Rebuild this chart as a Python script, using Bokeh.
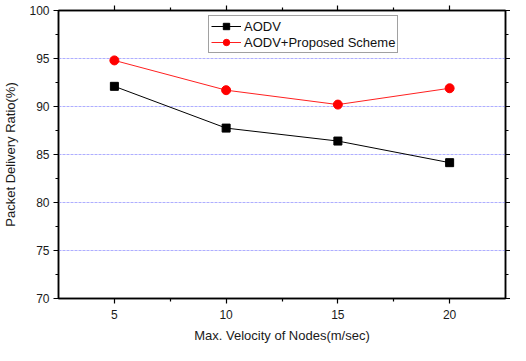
from bokeh.plotting import figure
from bokeh.models import LinearAxis, Legend, LegendItem, FixedTicker, Range1d, CustomJSTickFormatter
from bokeh.embed import file_html
from bokeh.resources import INLINE

velocity = [5, 10, 15, 20]
aodv = [92.1, 87.75, 86.4, 84.15]
proposed = [94.8, 91.7, 90.2, 91.9]
x_ticks = [5, 10, 15, 20]
x_minor = [7.5, 12.5, 17.5]
y_ticks = [70, 75, 80, 85, 90, 95, 100]
y_minor = [72.5, 77.5, 82.5, 87.5, 92.5, 97.5]
grid_levels = [75, 80, 85, 90, 95]

FONT = "Liberation Sans"

p = figure(width=510, height=345, x_range=Range1d(2.5, 22.5), y_range=Range1d(70, 100),
           output_backend="svg", toolbar_location=None,
           min_border_left=58, min_border_right=3, min_border_top=10, min_border_bottom=0)

p.outline_line_color = "black"
p.outline_line_width = 1.5
p.background_fill_color = "white"
p.border_fill_color = "white"

p.xgrid.grid_line_color = None
p.ygrid.grid_line_color = "#a0a0ff"
p.ygrid.grid_line_alpha = 0.85
p.ygrid.grid_line_dash = "3 1"
p.ygrid.grid_line_width = 1
p.ygrid.ticker = FixedTicker(ticks=grid_levels)

def style(ax, labels=True):
    ax.axis_line_color = "black"
    ax.axis_line_width = 1.5
    ax.major_tick_line_color = "black"
    ax.minor_tick_line_color = "black"
    ax.major_tick_line_width = 1.2
    ax.minor_tick_line_width = 1.2
    ax.major_tick_in = 0
    ax.major_tick_out = 5
    ax.minor_tick_in = 0
    ax.minor_tick_out = 3
    ax.major_label_text_font = FONT
    ax.major_label_text_font_size = "12px"
    ax.major_label_text_color = "#1a1a1a"
    ax.axis_label_text_font = FONT
    ax.axis_label_text_font_size = "13px"
    ax.axis_label_text_font_style = "normal"
    ax.axis_label_text_color = "#1a1a1a"
    if not labels:
        ax.formatter = CustomJSTickFormatter(code="return '';")
        ax.major_label_standoff = 0

p.xaxis.ticker = FixedTicker(ticks=x_ticks, minor_ticks=x_minor)
p.yaxis.ticker = FixedTicker(ticks=y_ticks, minor_ticks=y_minor)
p.xaxis.axis_label = "Max. Velocity of Nodes(m/sec)"
p.yaxis.axis_label = "Packet Delivery Ratio(%)"
style(p.xaxis[0])
style(p.yaxis[0])
p.xaxis.axis_label_standoff = 6
p.yaxis.axis_label_standoff = 8
p.xaxis.major_label_standoff = 6
p.yaxis.major_label_standoff = 4

top = LinearAxis(ticker=FixedTicker(ticks=x_ticks, minor_ticks=x_minor))
style(top, labels=False)
p.add_layout(top, "above")
right = LinearAxis(ticker=FixedTicker(ticks=y_ticks, minor_ticks=y_minor))
style(right, labels=False)
p.add_layout(right, "right")

l1 = p.line(velocity, aodv, line_color="black", line_width=1)
s1 = p.scatter(velocity, aodv, marker="square", size=8, fill_color="black", line_color="black")
l2 = p.line(velocity, proposed, line_color="#ff2020", line_width=1)
s2 = p.scatter(velocity, proposed, marker="circle", size=9, fill_color="#ff0000", line_color="#ff0000")

legend = Legend(items=[LegendItem(label="AODV", renderers=[l1, s1]),
                       LegendItem(label="AODV+Proposed Scheme", renderers=[l2, s2])],
                location=(150, 245), orientation="vertical")
legend.label_text_font = FONT
legend.label_text_font_size = "13px"
legend.label_text_color = "#111111"
legend.border_line_color = "#444444"
legend.border_line_width = 1
legend.glyph_width = 30
legend.glyph_height = 16
legend.label_height = 16
legend.spacing = 0
legend.padding = 2
legend.margin = 0
legend.label_standoff = 3
legend.background_fill_alpha = 1
p.add_layout(legend, "center")

open("out.html", "w").write(file_html(p, INLINE))
